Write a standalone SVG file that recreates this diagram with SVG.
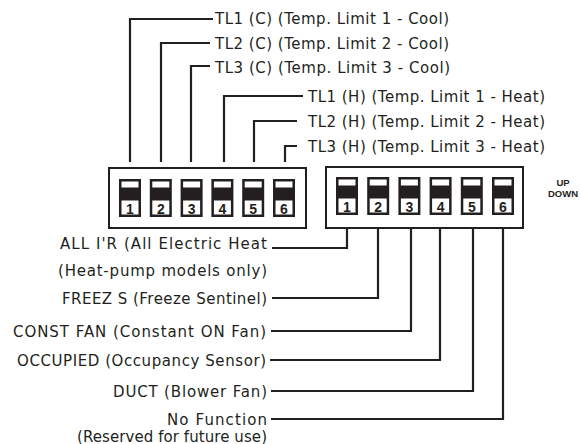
<svg xmlns="http://www.w3.org/2000/svg" width="580" height="444" viewBox="0 0 580 444">
<style>
.lbl{font-family:"DejaVu Sans","Liberation Sans",sans-serif;font-size:15px;fill:#231f20;}
.num{font-family:"Liberation Sans",Arial,sans-serif;font-size:14px;font-weight:bold;fill:#231f20;text-anchor:middle;}
.ud{font-family:"Liberation Sans",Arial,sans-serif;font-size:9.5px;font-weight:bold;fill:#231f20;text-anchor:middle;}
.wire{fill:none;stroke:#231f20;stroke-width:2.2;}
.box{fill:#fff;stroke:#231f20;stroke-width:2;}
</style>
<defs>
<g id="sw">
<rect width="22" height="38" fill="#231f20"/>
<rect x="2.5" y="2.5" width="17" height="6" fill="#fff"/>
<rect x="2.5" y="21.5" width="17" height="14" fill="#fff"/>
</g>
</defs>
<rect width="580" height="444" fill="#fff"/>

<g id="connectors">
<path class="wire" d="M130,162V19H213"/>
<path class="wire" d="M161,162V43H210"/>
<path class="wire" d="M191,162V66H210"/>
<path class="wire" d="M224,162V96H303"/>
<path class="wire" d="M254,162V121H297"/>
<path class="wire" d="M285,162V146H297"/>
<path class="wire" d="M347,219V248H272"/>
<path class="wire" d="M378,219V298H272"/>
<path class="wire" d="M411,219V331H271"/>
<path class="wire" d="M440,219V360H270"/>
<path class="wire" d="M473,219V391H271"/>
<path class="wire" d="M503,219V419H271"/>
</g>

<g id="switchbank-left">
<rect class="box" x="109" y="168" width="197" height="60"/>
<use href="#sw" x="119" y="179"/><text class="num" x="130" y="213.5">1</text>
<use href="#sw" x="149.8" y="179"/><text class="num" x="160.8" y="213.5">2</text>
<use href="#sw" x="180.6" y="179"/><text class="num" x="191.6" y="213.5">3</text>
<use href="#sw" x="211.4" y="179"/><text class="num" x="222.4" y="213.5">4</text>
<use href="#sw" x="242.2" y="179"/><text class="num" x="253.2" y="213.5">5</text>
<use href="#sw" x="273" y="179"/><text class="num" x="284" y="213.5">6</text>
</g>

<g id="switchbank-right">
<rect class="box" x="326" y="167" width="197" height="61"/>
<use href="#sw" x="336" y="177"/><text class="num" x="347" y="212">1</text>
<use href="#sw" x="367.2" y="177"/><text class="num" x="378.2" y="212">2</text>
<use href="#sw" x="398.4" y="177"/><text class="num" x="409.4" y="212">3</text>
<use href="#sw" x="429.6" y="177"/><text class="num" x="440.6" y="212">4</text>
<use href="#sw" x="460.8" y="177"/><text class="num" x="471.8" y="212">5</text>
<use href="#sw" x="492" y="177"/><text class="num" x="503" y="212">6</text>
</g>

<g id="updown">
<text class="ud" x="563" y="186">UP</text>
<text class="ud" x="563" y="197">DOWN</text>
</g>

<g id="tl1c"><text class="lbl" x="215" y="24" textLength="234" lengthAdjust="spacing">TL1 (C) (Temp. Limit 1 - Cool)</text></g>
<g id="tl2c"><text class="lbl" x="215" y="48.5" textLength="234" lengthAdjust="spacing">TL2 (C) (Temp. Limit 2 - Cool)</text></g>
<g id="tl3c"><text class="lbl" x="215" y="72.5" textLength="235" lengthAdjust="spacing">TL3 (C) (Temp. Limit 3 - Cool)</text></g>
<g id="tl1h"><text class="lbl" x="308" y="102" textLength="237" lengthAdjust="spacing">TL1 (H) (Temp. Limit 1 - Heat)</text></g>
<g id="tl2h"><text class="lbl" x="308" y="127" textLength="237" lengthAdjust="spacing">TL2 (H) (Temp. Limit 2 - Heat)</text></g>
<g id="tl3h"><text class="lbl" x="308" y="151.5" textLength="237" lengthAdjust="spacing">TL3 (H) (Temp. Limit 3 - Heat)</text></g>

<g id="allir">
<text class="lbl" x="60" y="249" textLength="207" lengthAdjust="spacing">ALL I'R (All Electric Heat</text>
<text class="lbl" x="58" y="276" textLength="209" lengthAdjust="spacing">(Heat-pump models only)</text>
</g>
<g id="freez"><text class="lbl" x="62" y="303.5" textLength="205" lengthAdjust="spacing">FREEZ S (Freeze Sentinel)</text></g>
<g id="constfan"><text class="lbl" x="13" y="336.5" textLength="253" lengthAdjust="spacing">CONST FAN (Constant ON Fan)</text></g>
<g id="occupied"><text class="lbl" x="17" y="365.5" textLength="249" lengthAdjust="spacing">OCCUPIED (Occupancy Sensor)</text></g>
<g id="duct"><text class="lbl" x="113" y="396.5" textLength="154" lengthAdjust="spacing">DUCT (Blower Fan)</text></g>
<g id="nofunc">
<text class="lbl" x="167" y="424.5" textLength="100" lengthAdjust="spacing">No Function</text>
<text class="lbl" x="77" y="441.5" textLength="190" lengthAdjust="spacing">(Reserved for future use)</text>
</g>
</svg>
